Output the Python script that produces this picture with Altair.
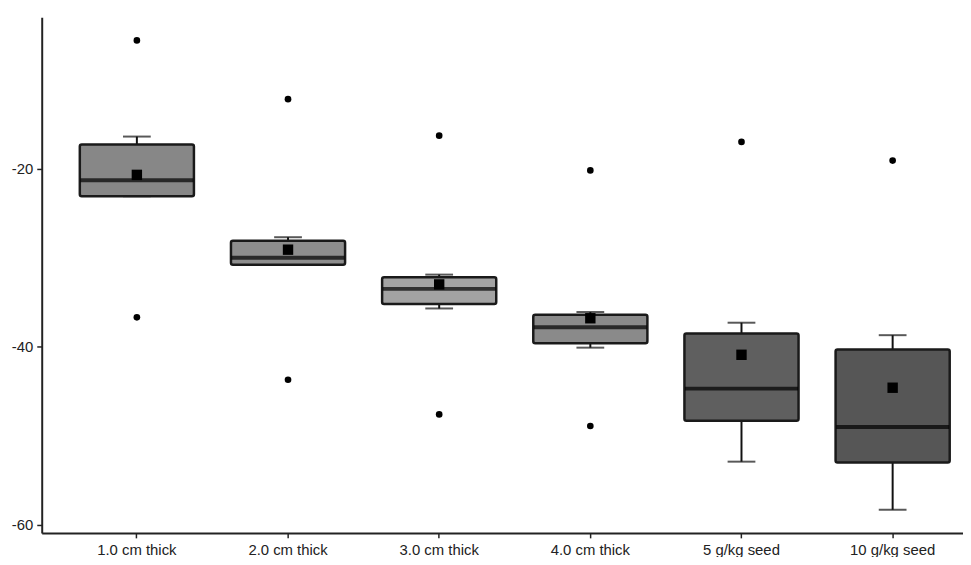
import altair as alt
import pandas as pd

categories = ["1.0 cm thick", "2.0 cm thick", "3.0 cm thick", "4.0 cm thick", "5 g/kg seed", "10 g/kg seed"]
whisker_low = [-23.1, -30.8, -35.7, -40.1, -52.9, -58.3]
q1 = [-23.1, -30.8, -35.2, -39.6, -48.3, -53.0]
median = [-21.3, -30.0, -33.5, -37.8, -44.7, -49.0]
q3 = [-17.3, -28.1, -32.2, -36.4, -38.5, -40.3]
whisker_high = [-16.4, -27.7, -31.9, -36.1, -37.3, -38.7]
mean = [-20.7, -29.1, -33.0, -36.8, -40.9, -44.6]
fills = ["#878787", "#8e8e8e", "#a3a3a3", "#8a8a8a", "#5f5f5f", "#565656"]

outlier_cat = ["1.0 cm thick", "1.0 cm thick", "2.0 cm thick", "2.0 cm thick",
               "3.0 cm thick", "3.0 cm thick", "4.0 cm thick", "4.0 cm thick",
               "5 g/kg seed", "10 g/kg seed"]
outlier_val = [-5.6, -36.7, -12.2, -43.7, -16.3, -47.6, -20.2, -48.9, -17.0, -19.1]

box = pd.DataFrame({
    "cat": categories, "wlo": whisker_low, "q1": q1, "med": median,
    "q3": q3, "whi": whisker_high, "mean": mean, "fill": fills,
})
out = pd.DataFrame({"cat": outlier_cat, "val": outlier_val})

x = alt.X("cat:N", sort=categories, title=None,
          scale=alt.Scale(range=[0, 954], paddingInner=0.245, paddingOuter=0.252),
          axis=alt.Axis(labelAngle=0, domainColor="#222", domainWidth=2,
                        tickColor="#222", tickWidth=1.5, tickSize=5,
                        labelFont="Liberation Sans", labelFontSize=15,
                        labelColor="#222", labelPadding=5, grid=False))
yscale = alt.Scale(domain=[-60.9, -3.0], nice=False, zero=False)
yaxis = alt.Axis(values=[-60, -40, -20], labelExpr="'' + datum.value",
                 domainColor="#222", domainWidth=2,
                 tickColor="#222", tickWidth=1.5, tickSize=5,
                 labelFont="Liberation Sans", labelFontSize=15, labelColor="#222",
                 labelPadding=4, grid=False, title=None)

base = alt.Chart(box)

whisk_lo = base.mark_rule(color="#111", strokeWidth=2).encode(
    x=x, y=alt.Y("wlo:Q", scale=yscale, axis=yaxis), y2="q1:Q")
whisk_hi = base.mark_rule(color="#111", strokeWidth=2).encode(
    x=x, y=alt.Y("q3:Q", scale=yscale, axis=yaxis), y2="whi:Q")
cap_lo = base.mark_tick(color="#111", size=28, thickness=2).encode(
    x=x, y=alt.Y("wlo:Q", scale=yscale, axis=yaxis))
cap_hi = base.mark_tick(color="#111", size=28, thickness=2).encode(
    x=x, y=alt.Y("whi:Q", scale=yscale, axis=yaxis))
boxes = base.mark_bar(stroke="#1a1a1a", strokeWidth=2.5, cornerRadius=2).encode(
    x=x, y=alt.Y("q1:Q", scale=yscale, axis=yaxis), y2="q3:Q",
    fill=alt.Fill("fill:N", scale=None))
med = base.mark_tick(color="#000", size=114, thickness=4).encode(
    x=x, y=alt.Y("med:Q", scale=yscale, axis=yaxis))
means = base.mark_point(shape="square", filled=True, color="#000", size=110, opacity=1).encode(
    x=x, y=alt.Y("mean:Q", scale=yscale, axis=yaxis))
outs = alt.Chart(out).mark_point(shape="circle", filled=True, color="#000", size=45, opacity=1).encode(
    x=x, y=alt.Y("val:Q", scale=yscale, axis=yaxis))

chart = alt.layer(whisk_lo, whisk_hi, cap_lo, cap_hi, boxes, med, means, outs).properties(
    width=923, height=520,
    autosize=alt.AutoSizeParams(type="none"),
    padding={"left": 34, "top": 7, "right": 6, "bottom": 22},
).configure(background="white", view=alt.ViewConfig(strokeWidth=0, stroke="transparent"))

chart.save("out.html", embed_options={"renderer": "svg", "actions": False})
